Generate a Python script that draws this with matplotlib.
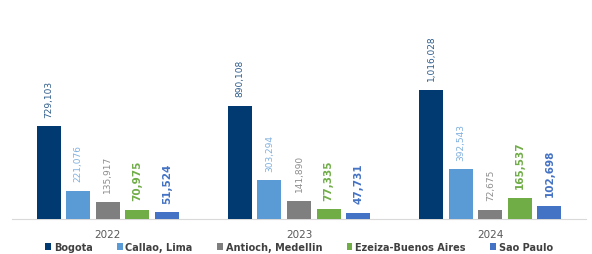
import matplotlib.pyplot as plt
import numpy as np

# Data
years = ['2022', '2023', '2024']
series = ['Bogota', 'Callao, Lima', 'Antioch, Medellin', 'Ezeiza-Buenos Aires', 'Sao Paulo']
bogota = [729103, 890108, 1016028]
callao = [221076, 303294, 392543]
antioch = [135917, 141890, 72675]
ezeiza = [70975, 77335, 165537]
sao_paulo = [51524, 47731, 102698]

values = [bogota, callao, antioch, ezeiza, sao_paulo]
colors = ['#003A70', '#5B9BD5', '#7F7F7F', '#70AD47', '#4472C4']
label_colors = ['#2E5C8A', '#7FB0DE', '#8C8C8C', '#70AD47', '#4472C4']
label_bold = [False, False, False, True, True]
label_size = [6.5, 6.5, 6.5, 7.5, 7.5]

fig = plt.figure(figsize=(5.92, 2.55), dpi=100)
ax = fig.add_axes([12 / 592, 35 / 255, 574 / 592, 220 / 255])

x = np.arange(len(years))
width = 0.125
pitch = 0.1545

for i, (name, vals) in enumerate(zip(series, values)):
    pos = x + (i - 2) * pitch
    ax.bar(pos, vals, width=width, color=colors[i], label=name, zorder=3)
    for px, v in zip(pos, vals):
        ax.text(px, v + 75000, f'{v:,}', rotation=90, ha='center', va='bottom',
                fontsize=label_size[i], color=label_colors[i],
                fontweight='bold' if label_bold[i] else 'normal')

ax.set_xlim(-0.5, 2.5)
ax.set_ylim(0, 1.73e6)
ax.set_xticks(x)
ax.set_xticklabels(years, fontsize=7.5, color='#595959')
ax.tick_params(axis='x', length=0, pad=7)
ax.set_yticks([])
for s in ['top', 'right', 'left']:
    ax.spines[s].set_visible(False)
ax.spines['bottom'].set_color('#D9D9D9')

fig.legend(loc='center', bbox_to_anchor=(0.505, 7 / 255), ncol=5, frameon=False,
           handlelength=0.6, handleheight=0.6, handletextpad=0.3,
           columnspacing=2.5, labelcolor='#404040',
           prop={'weight': 'bold', 'size': 7})

fig.savefig('out.png', dpi=100)
